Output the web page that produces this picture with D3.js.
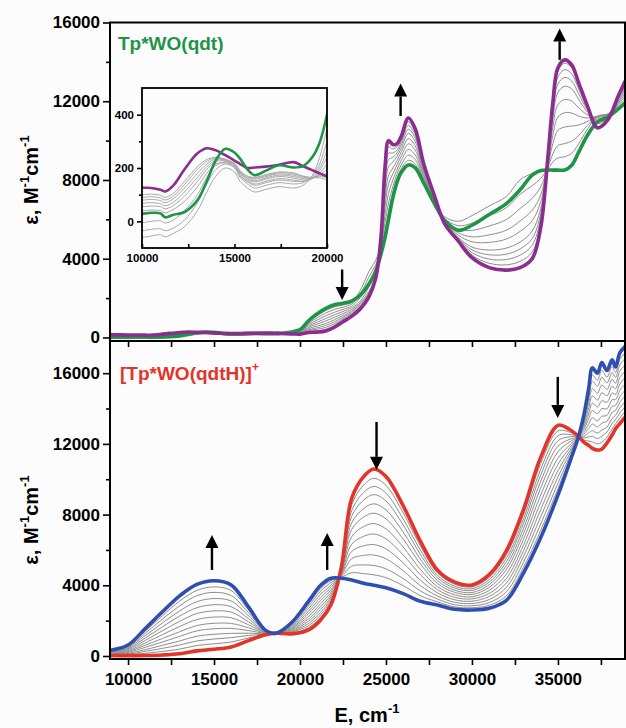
<!DOCTYPE html>
<html>
<head>
<meta charset="utf-8">
<script src="https://cdn.jsdelivr.net/npm/d3@7"></script>
<style>
  html, body { margin: 0; padding: 0; background: #fcfcfc; }
  svg { display: block; font-family: "Liberation Sans", Arial, sans-serif; font-weight: bold; }
</style>
</head>
<body>
<svg id="chart" width="626" height="728"></svg>
<script>
// ---------- Lower panel: [Tp*WO(qdtH)]+ -> titration ----------
const energyBottom = [9000, 10000, 11000, 12000, 13000, 14000, 15000, 16000, 17000, 18000, 18600, 19500, 20500, 21200, 21800, 22400, 23000, 23700, 24300, 25000, 26000, 27000, 28000, 29000, 30000, 31000, 32000, 33000, 34000, 35000, 35700, 36200, 36500, 36800, 37000, 37300, 37550, 37850, 38150, 38350, 38600, 38900];
const epsRedStart = [30, 20, 30, 60, 130, 290, 380, 510, 870, 1200, 1290, 1250, 1480, 2040, 2900, 5000, 8900, 10150, 10580, 10150, 8500, 6500, 4850, 4180, 4020, 4600, 5950, 8300, 11250, 13050, 12800, 12420, 12100, 11900, 11750, 11650, 11700, 12050, 12500, 12850, 13150, 13500];
const epsBlueEnd = [330, 620, 1550, 2500, 3400, 4050, 4260, 4020, 2780, 1450, 1290, 1880, 3100, 4000, 4400, 4400, 4300, 4120, 4000, 3860, 3530, 3100, 2880, 2640, 2600, 2700, 3150, 4700, 6700, 9100, 11000, 12420, 13600, 15200, 16300, 16000, 16600, 16150, 16750, 16350, 17150, 17500];
const bottomGrayTraces = [
  [50, 70, 150, 260, 390, 590, 690, 790, 1020, 1220, 1290, 1300, 1610, 2200, 3020, 4950, 8530, 9670, 10050, 9650, 8100, 6230, 4690, 4060, 3910, 4450, 5730, 8010, 10890, 12730, 12660, 12420, 12220, 12160, 12110, 12000, 12090, 12380, 12840, 13130, 13470, 13820],
  [80, 110, 260, 430, 620, 850, 960, 1040, 1160, 1240, 1290, 1350, 1720, 2330, 3130, 4910, 8210, 9250, 9590, 9210, 7750, 5990, 4550, 3950, 3810, 4320, 5530, 7760, 10570, 12460, 12530, 12420, 12330, 12400, 12430, 12300, 12440, 12670, 13140, 13380, 13750, 14100],
  [100, 150, 360, 600, 850, 1120, 1230, 1280, 1290, 1260, 1290, 1390, 1840, 2470, 3230, 4870, 7890, 8820, 9130, 8770, 7410, 5750, 4420, 3840, 3710, 4180, 5330, 7510, 10250, 12180, 12400, 12420, 12430, 12630, 12750, 12610, 12780, 12950, 13440, 13620, 14030, 14380],
  [120, 200, 490, 790, 1110, 1420, 1540, 1560, 1440, 1280, 1290, 1440, 1970, 2630, 3350, 4820, 7520, 8340, 8610, 8260, 7010, 5480, 4260, 3720, 3590, 4030, 5110, 7220, 9890, 11870, 12260, 12420, 12550, 12890, 13120, 12960, 13170, 13280, 13780, 13900, 14350, 14700],
  [140, 250, 610, 990, 1370, 1720, 1850, 1840, 1600, 1300, 1290, 1490, 2100, 2790, 3470, 4770, 7150, 7860, 8080, 7760, 6610, 5210, 4100, 3600, 3480, 3880, 4890, 6930, 9520, 11550, 12120, 12420, 12670, 13150, 13480, 13300, 13560, 13610, 14120, 14180, 14670, 15020],
  [170, 300, 740, 1210, 1670, 2060, 2200, 2160, 1770, 1320, 1290, 1550, 2240, 2960, 3610, 4720, 6740, 7320, 7490, 7190, 6160, 4900, 3920, 3460, 3350, 3710, 4630, 6610, 9110, 11190, 11950, 12420, 12810, 13450, 13890, 13700, 14000, 13980, 14500, 14500, 15030, 15380],
  [200, 360, 880, 1430, 1960, 2400, 2550, 2480, 1940, 1340, 1290, 1600, 2390, 3140, 3740, 4660, 6320, 6770, 6900, 6630, 5720, 4600, 3750, 3320, 3230, 3540, 4380, 6280, 8700, 10840, 11790, 12420, 12940, 13750, 14300, 14090, 14440, 14350, 14880, 14810, 15390, 15740],
  [230, 410, 1020, 1650, 2260, 2730, 2900, 2790, 2110, 1360, 1290, 1660, 2530, 3310, 3880, 4610, 5910, 6230, 6300, 6060, 5270, 4290, 3570, 3180, 3100, 3370, 4130, 5960, 8290, 10480, 11630, 12420, 13080, 14050, 14710, 14480, 14890, 14720, 15260, 15130, 15750, 16100],
  [250, 460, 1160, 1870, 2550, 3070, 3250, 3110, 2280, 1390, 1290, 1720, 2680, 3490, 4010, 4560, 5500, 5690, 5710, 5500, 4820, 3980, 3390, 3040, 2970, 3190, 3880, 5640, 7880, 10130, 11470, 12420, 13210, 14340, 15120, 14870, 15330, 15080, 15650, 15440, 16110, 16460],
  [280, 520, 1290, 2090, 2840, 3410, 3600, 3420, 2460, 1410, 1290, 1770, 2830, 3670, 4150, 4500, 5080, 5150, 5120, 4930, 4380, 3680, 3220, 2900, 2840, 3020, 3630, 5310, 7470, 9770, 11310, 12420, 13350, 14640, 15530, 15260, 15770, 15450, 16030, 15760, 16470, 16820],
  [300, 570, 1410, 2280, 3110, 3710, 3910, 3700, 2610, 1430, 1290, 1820, 2950, 3820, 4270, 4450, 4710, 4660, 4590, 4430, 3980, 3410, 3060, 2780, 2730, 2870, 3400, 5020, 7110, 9460, 11160, 12420, 13470, 14900, 15890, 15610, 16160, 15780, 16370, 16040, 16790, 17140]
];

// ---------- Upper panel: Tp*WO(qdt) titration ----------
// below 20000 cm-1 (shared with the inset)
const energyTopLow = [9000, 10000, 10500, 11000, 11250, 11700, 12300, 13000, 13500, 14000, 14500, 15000, 15300, 15700, 16100, 16700, 17400, 18200, 18700, 19200, 19600, 20000];
const greenLow = [30, 28, 32, 30, 15, 25, 35, 80, 150, 230, 272, 258, 235, 195, 173, 190, 210, 202, 207, 240, 295, 400];
const purpleLow = [140, 127, 125, 118, 112, 135, 195, 255, 274, 266, 248, 228, 215, 200, 202, 205, 212, 222, 207, 192, 180, 168];
const grayTopLow = [
  [-55, -60, -55, -50, -58, -45, -20, 40, 110, 170, 200, 185, 150, 125, 110, 120, 130, 125, 135, 170, 240, 350],
  [-30, -35, -30, -28, -35, -25, 5, 70, 140, 195, 215, 200, 165, 140, 125, 135, 145, 140, 145, 170, 215, 300],
  [0, -5, 0, 2, -6, 5, 40, 100, 165, 210, 220, 205, 170, 148, 135, 145, 155, 150, 150, 165, 200, 265],
  [45, 40, 42, 40, 32, 45, 75, 130, 180, 215, 220, 205, 175, 150, 140, 150, 160, 155, 150, 160, 190, 240],
  [60, 55, 57, 55, 47, 60, 95, 150, 195, 225, 225, 210, 180, 155, 148, 158, 168, 162, 155, 160, 180, 215],
  [72, 68, 70, 66, 58, 72, 110, 165, 205, 230, 228, 212, 182, 160, 152, 163, 173, 168, 160, 162, 175, 195],
  [85, 80, 82, 78, 70, 85, 125, 180, 215, 235, 230, 215, 185, 163, 158, 168, 178, 173, 165, 163, 172, 180],
  [95, 90, 92, 88, 80, 95, 138, 195, 225, 238, 232, 216, 188, 167, 162, 172, 182, 178, 168, 164, 168, 165],
  [105, 100, 102, 98, 90, 105, 150, 205, 232, 240, 233, 217, 190, 170, 165, 175, 185, 182, 170, 164, 163, 155]
];
// above 20000 cm-1
const energyTopHigh = [20500, 21000, 21500, 22000, 22500, 23000, 23500, 24000, 24400, 24700, 24950, 25150, 25400, 25650, 25900, 26300, 26700, 27200, 27800, 28400, 29200, 30000, 31000, 32000, 32800, 33500, 34000, 34400, 34700, 35000, 35400, 35800, 36200, 36700, 37300, 37900, 38500, 38900];
const greenHigh = [850, 1200, 1480, 1660, 1740, 1850, 2150, 2700, 3350, 4200, 5100, 6000, 7100, 7900, 8400, 8760, 8620, 7840, 6830, 5950, 5450, 5700, 6250, 6800, 7500, 8250, 8480, 8510, 8500, 8500, 8510, 8750, 9400, 10250, 10950, 11200, 11600, 11900];
const purpleHigh = [250, 270, 330, 520, 800, 1070, 1450, 2050, 3000, 5000, 8700, 10000, 9800, 9850, 10250, 11150, 10600, 8800, 7250, 5800, 4900, 4050, 3550, 3420, 3550, 4000, 5600, 9000, 11900, 13700, 14100, 13850, 12950, 11800, 10650, 11050, 12250, 13000];
const grayTopHigh = [
  [790, 1110, 1370, 1550, 1650, 1770, 2380, 3340, 3920, 4580, 5460, 6400, 7370, 8100, 8590, 9000, 8820, 7940, 6870, 6140, 5900, 6190, 6680, 7160, 8010, 8330, 8490, 8560, 8910, 9120, 9180, 9360, 9830, 10560, 11220, 11340, 11670, 12010],
  [720, 1000, 1240, 1420, 1540, 1690, 2200, 3060, 3680, 4570, 5860, 6840, 7670, 8310, 8790, 9260, 9040, 8040, 6920, 6040, 5680, 5800, 6180, 6590, 7270, 7710, 8080, 8610, 9320, 9750, 9850, 9970, 10250, 10760, 11240, 11350, 11740, 12130],
  [650, 890, 1100, 1280, 1430, 1590, 2020, 2790, 3480, 4560, 6290, 7320, 7990, 8540, 9010, 9550, 9270, 8160, 6970, 5960, 5490, 5440, 5660, 5990, 6550, 7070, 7650, 8670, 9830, 10530, 10690, 10740, 10790, 10960, 11250, 11350, 11820, 12260],
  [580, 780, 960, 1150, 1320, 1500, 1840, 2560, 3310, 4560, 6720, 7800, 8320, 8780, 9230, 9840, 9510, 8270, 7020, 5880, 5320, 5110, 5210, 5450, 5920, 6460, 7240, 8730, 10270, 11200, 11420, 11400, 11250, 11150, 11220, 11330, 11890, 12400],
  [510, 680, 840, 1020, 1210, 1410, 1760, 2340, 3150, 4650, 7120, 8240, 8610, 8990, 9440, 10100, 9730, 8380, 7070, 5870, 5200, 4860, 4830, 5000, 5390, 5930, 6900, 8780, 10680, 11830, 12090, 12010, 11670, 11320, 11180, 11320, 11960, 12520],
  [450, 580, 710, 900, 1110, 1330, 1680, 2260, 3120, 4740, 7510, 8680, 8910, 9210, 9640, 10360, 9950, 8480, 7110, 5850, 5080, 4590, 4440, 4540, 4850, 5400, 6550, 8840, 11080, 12450, 12760, 12630, 12100, 11470, 11100, 11280, 12040, 12640],
  [390, 490, 610, 790, 1030, 1260, 1620, 2210, 3080, 4810, 7840, 9040, 9150, 9380, 9810, 10580, 10130, 8570, 7150, 5840, 5030, 4450, 4200, 4230, 4500, 5020, 6290, 8880, 11360, 12870, 13210, 13030, 12380, 11580, 11020, 11240, 12090, 12740],
  [350, 420, 510, 700, 950, 1200, 1560, 2150, 3060, 4870, 8120, 9360, 9370, 9540, 9950, 10770, 10280, 8650, 7180, 5820, 4990, 4310, 3980, 3960, 4180, 4680, 6060, 8920, 11590, 13230, 13600, 13390, 12630, 11670, 10950, 11190, 12150, 12820],
  [300, 340, 420, 610, 880, 1130, 1510, 2100, 3030, 4940, 8410, 9680, 9580, 9690, 10100, 10960, 10440, 8720, 7220, 5810, 4940, 4180, 3770, 3690, 3870, 4340, 5830, 8960, 11800, 13540, 13930, 13700, 12840, 11780, 10870, 11160, 12200, 12910]
];

// direction-of-change arrows (energy, start value, tip value)
const topArrows = [[22450, 3450, 1900], [25850, 11250, 12900], [35100, 14100, 15700]];
const bottomArrows = [[14880, 4870, 6850], [21580, 4870, 6960], [24450, 13240, 10530], [34990, 15790, 13470]];

// axis ticks
const energyTicks = [10000, 15000, 20000, 25000, 30000, 35000];
const energyMinorTicks = [12500, 17500, 22500, 27500, 32500, 37500];
const epsTicks = [0, 4000, 8000, 12000, 16000];
const epsMinorTicks = [2000, 6000, 10000, 14000];
const insetEnergyTicks = [10000, 12500, 15000, 17500, 20000];
const insetEpsTicks = [0, 200, 400];
const insetEpsMinorTicks = [100, 300];

// ---------- drawing ----------
const svg = d3.select('#chart');
const BG = '#fcfcfc';
svg.append('rect').attr('width', 626).attr('height', 728).attr('fill', BG);

const L = 110, R = 625;
const x = d3.scaleLinear().domain([8950, 38900]).range([L, R]);
const yTop = d3.scaleLinear().domain([-180, 16000]).range([341, 22.5]);
const yBot = d3.scaleLinear().domain([-170, 17820]).range([659, 341]);

const COLORS = { green: '#1e9447', purple: '#8a2d8e', red: '#e3342a', blue: '#2f4fb0', gray: '#8e8e8e' };

const defs = svg.append('defs');
function clip(id, x0, y0, w, h) {
  defs.append('clipPath').attr('id', id).append('rect').attr('x', x0).attr('y', y0).attr('width', w).attr('height', h);
}
clip('clipTop', L, 22.5, R - L, 341 - 22.5);
clip('clipBot', L, 341, R - L, 659 - 341);

function trace(g, xs, ys, xs_scale, ys_scale, color, width) {
  const line = d3.line().x(d => xs_scale(d[0])).y(d => ys_scale(d[1])).curve(d3.curveCatmullRom.alpha(0.5));
  g.append('path').datum(d3.zip(xs, ys)).attr('d', line)
    .attr('fill', 'none').attr('stroke', color).attr('stroke-width', width)
    .attr('stroke-linejoin', 'round').attr('stroke-linecap', 'round');
}

function arrow(g, px, y0, y1) {
  const dir = Math.sign(y1 - y0), head = 13, half = 6.5;
  g.append('line').attr('x1', px).attr('x2', px).attr('y1', y0).attr('y2', y1 - dir * head)
    .attr('stroke', '#000').attr('stroke-width', 2.4);
  g.append('path').attr('d', `M${px},${y1}L${px - half},${y1 - dir * head}L${px + half},${y1 - dir * head}Z`).attr('fill', '#000');
}

function styleAxis(g, size) {
  g.attr('font-family', '"Liberation Sans", Arial, sans-serif').attr('font-size', size).attr('font-weight', 'bold');
  g.select('.domain').remove();
  g.selectAll('line').attr('stroke', '#000').attr('stroke-width', 1.6);
  g.selectAll('text').attr('fill', '#000');
}

// ----- upper panel -----
const energyTop = energyTopLow.concat(energyTopHigh);
const gTop = svg.append('g').attr('clip-path', 'url(#clipTop)');
grayTopLow.forEach((low, i) => trace(gTop, energyTop, low.concat(grayTopHigh[i]), x, yTop, COLORS.gray, 1));
trace(gTop, energyTop, greenLow.concat(greenHigh), x, yTop, COLORS.green, 3.6);
trace(gTop, energyTop, purpleLow.concat(purpleHigh), x, yTop, COLORS.purple, 3.6);

// ----- lower panel -----
const gBot = svg.append('g').attr('clip-path', 'url(#clipBot)');
bottomGrayTraces.forEach(v => trace(gBot, energyBottom, v, x, yBot, COLORS.gray, 1));
trace(gBot, energyBottom, epsRedStart, x, yBot, COLORS.red, 3.6);
trace(gBot, energyBottom, epsBlueEnd, x, yBot, COLORS.blue, 3.6);

// frames
svg.append('rect').attr('x', L).attr('y', 22.5).attr('width', R - L).attr('height', 341 - 22.5)
  .attr('fill', 'none').attr('stroke', '#000').attr('stroke-width', 2);
svg.append('rect').attr('x', L).attr('y', 341).attr('width', R - L).attr('height', 659 - 341)
  .attr('fill', 'none').attr('stroke', '#000').attr('stroke-width', 2);

// y axes
[[yTop], [yBot]].forEach(([ys]) => {
  const major = svg.append('g').attr('transform', `translate(${L},0)`)
    .call(d3.axisLeft(ys).tickValues(epsTicks).tickSize(7).tickPadding(3).tickFormat(d3.format('d')));
  styleAxis(major, 17);
  const minor = svg.append('g').attr('transform', `translate(${L},0)`)
    .call(d3.axisLeft(ys).tickValues(epsMinorTicks).tickSize(4).tickFormat(''));
  styleAxis(minor, 17);
});

// bottom energy axis (outward) and inward ticks along the shared edge
const xAxis = svg.append('g').attr('transform', 'translate(0,659)')
  .call(d3.axisBottom(x).tickValues(energyTicks.concat(energyMinorTicks)).tickSize(6).tickPadding(8)
    .tickFormat(d => energyTicks.includes(d) ? d3.format('d')(d) : ''));
styleAxis(xAxis, 17);
const xInner = svg.append('g').attr('transform', 'translate(0,341)')
  .call(d3.axisBottom(x).tickValues(energyTicks.concat(energyMinorTicks)).tickSize(6).tickFormat(''));
styleAxis(xInner, 17);

// arrows
topArrows.forEach(([e, a, b]) => arrow(svg, x(e), yTop(a), yTop(b)));
bottomArrows.forEach(([e, a, b]) => arrow(svg, x(e), yBot(a), yBot(b)));

// panel titles
svg.append('text').attr('x', 118).attr('y', 50).attr('font-size', 19).attr('fill', COLORS.green).text('Tp*WO(qdt)');
const t2 = svg.append('text').attr('x', 120).attr('y', 380).attr('font-size', 19).attr('fill', COLORS.red);
t2.append('tspan').text('[Tp*WO(qdtH)]');
t2.append('tspan').attr('font-size', 12).attr('dy', -9).text('+');

// axis titles
function epsLabel(cy) {
  const t = svg.append('text').attr('transform', `translate(38,${cy}) rotate(-90)`)
    .attr('text-anchor', 'middle').attr('font-size', 20).attr('fill', '#000');
  t.append('tspan').text('ε, M');
  t.append('tspan').attr('font-size', 13).attr('dy', -9).text('-1');
  t.append('tspan').attr('dy', 9).text('cm');
  t.append('tspan').attr('font-size', 13).attr('dy', -9).text('-1');
}
epsLabel(180);
epsLabel(520);
const xt = svg.append('text').attr('x', 367).attr('y', 722).attr('text-anchor', 'middle').attr('font-size', 20).attr('fill', '#000');
xt.append('tspan').text('E, cm');
xt.append('tspan').attr('font-size', 13).attr('dy', -9).text('-1');

// ----- inset: low-energy region of the upper panel -----
const IL = 142, IR = 327, IT = 88, IB = 248;
const xi = d3.scaleLinear().domain([10000, 20000]).range([IL, IR]);
const yi = d3.scaleLinear().domain([-100, 500]).range([IB, IT]);
clip('clipInset', IL, IT, IR - IL, IB - IT);
svg.append('rect').attr('x', IL).attr('y', IT).attr('width', IR - IL).attr('height', IB - IT).attr('fill', BG);
const gIn = svg.append('g').attr('clip-path', 'url(#clipInset)');
grayTopLow.forEach(v => trace(gIn, energyTopLow, v, xi, yi, '#a9a9a9', 1));
trace(gIn, energyTopLow, purpleLow, xi, yi, COLORS.purple, 2.6);
trace(gIn, energyTopLow, greenLow, xi, yi, COLORS.green, 2.6);
svg.append('rect').attr('x', IL).attr('y', IT).attr('width', IR - IL).attr('height', IB - IT)
  .attr('fill', 'none').attr('stroke', '#000').attr('stroke-width', 1.8);
const iy = svg.append('g').attr('transform', `translate(${IL},0)`)
  .call(d3.axisLeft(yi).tickValues(insetEpsTicks).tickSize(5).tickPadding(3).tickFormat(d3.format('d')));
styleAxis(iy, 11.5);
const iyMinor = svg.append('g').attr('transform', `translate(${IL},0)`)
  .call(d3.axisLeft(yi).tickValues(insetEpsMinorTicks).tickSize(3).tickFormat(''));
styleAxis(iyMinor, 11.5);
const ix = svg.append('g').attr('transform', `translate(0,${IB})`)
  .call(d3.axisBottom(xi).tickValues(insetEnergyTicks).tickSize(-4).tickPadding(6)
    .tickFormat(d => d % 5000 === 0 ? d3.format('d')(d) : ''));
styleAxis(ix, 11.5);
</script>
</body>
</html>
